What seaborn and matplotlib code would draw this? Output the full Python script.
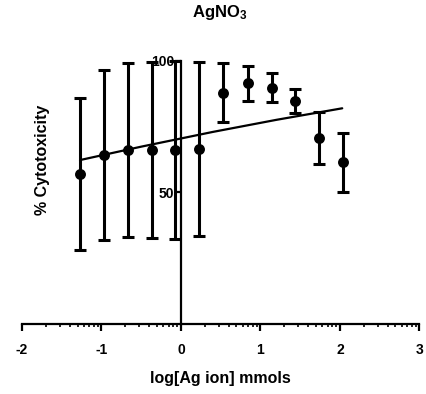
import numpy as np
import pandas as pd
import matplotlib
matplotlib.use("Agg")
import matplotlib.pyplot as plt
import seaborn as sns

# ---- data ----
log_conc = [-1.27, -0.97, -0.67, -0.37, -0.07, 0.23, 0.53, 0.84, 1.14, 1.44, 1.74, 2.04]
cytotox = [57.0, 64.2, 66.1, 66.1, 66.1, 66.4, 88.0, 91.5, 89.9, 84.8, 70.6, 61.5]
sd = [28.8, 32.3, 33.2, 33.5, 33.9, 33.1, 11.3, 6.7, 5.6, 4.5, 9.9, 11.2]
fit_x = [-1.27, -0.5, 0.4, 1.2, 2.03]
fit_y = [62.3, 67.4, 73.0, 77.6, 82.0]
xticks = [-2, -1, 0, 1, 2, 3]
yticks = [50, 100]

sns.set_theme(style="ticks")
plt.rcParams['font.family'] = ['Liberation Sans', 'DejaVu Sans']
plt.rcParams['font.weight'] = 'bold'
plt.rcParams['mathtext.default'] = 'regular'
for k in ['text.color', 'axes.labelcolor', 'xtick.color', 'ytick.color', 'axes.edgecolor']:
    plt.rcParams[k] = 'black'

df = pd.DataFrame({"x": log_conc, "y": cytotox, "sd": sd})
fit = pd.DataFrame({"x": fit_x, "y": fit_y})

fig = plt.figure(figsize=(4.27, 3.94), dpi=100)
ax = fig.add_axes([0.0515, 0.1782, 0.9305, 0.667])

ax.errorbar(df["x"], df["y"], yerr=df["sd"], fmt="none", ecolor="black",
            elinewidth=2.2, capsize=4, capthick=2.2, clip_on=False, zorder=3)
sns.scatterplot(data=df, x="x", y="y", ax=ax, color="black", s=62,
                edgecolor="black", linewidth=0, zorder=4, clip_on=False)
sns.lineplot(data=fit, x="x", y="y", ax=ax, color="black", linewidth=1.6,
             zorder=2, estimator=None)

ax.set_xlim(-2, 3)
ax.set_ylim(0, 100)
ax.spines['top'].set_visible(False)
ax.spines['right'].set_visible(False)
ax.spines['left'].set_position(('data', 0))
ax.spines['left'].set_bounds(0, 100)
ax.spines['bottom'].set_bounds(-2, 3)
for s in ['left', 'bottom']:
    ax.spines[s].set_linewidth(1.6)
    ax.spines[s].set_color('black')

ax.set_xticks(xticks)
ax.set_xticklabels([str(t) for t in xticks], fontsize=10, fontweight='bold')
minor = [n + np.log10(k) for n in range(-2, 3) for k in range(2, 10)]
ax.set_xticks(minor, minor=True)
ax.tick_params(axis='x', which='major', length=5, width=1.6, direction='out', pad=9)
ax.tick_params(axis='x', which='minor', length=2.5, width=1.2, direction='out')
ax.set_yticks(yticks)
ax.set_yticklabels([str(t) for t in yticks], fontsize=10, fontweight='bold')
ax.tick_params(axis='y', which='major', length=4, width=1.6, direction='out', pad=1)

ax.set_xlabel("log[Ag ion] mmols", fontsize=11.5, fontweight='bold', labelpad=10)
ax.set_ylabel("")
fig.text(43 / 427, 1 - 160 / 394, "% Cytotoxicity", rotation=90, ha='center', va='center',
         fontsize=11.5, fontweight='bold')
fig.text(220 / 427, 1 - 13 / 394, "AgNO$_3$", ha='center', va='center',
         fontsize=12, fontweight='bold')

fig.savefig("out.png", dpi=100)
